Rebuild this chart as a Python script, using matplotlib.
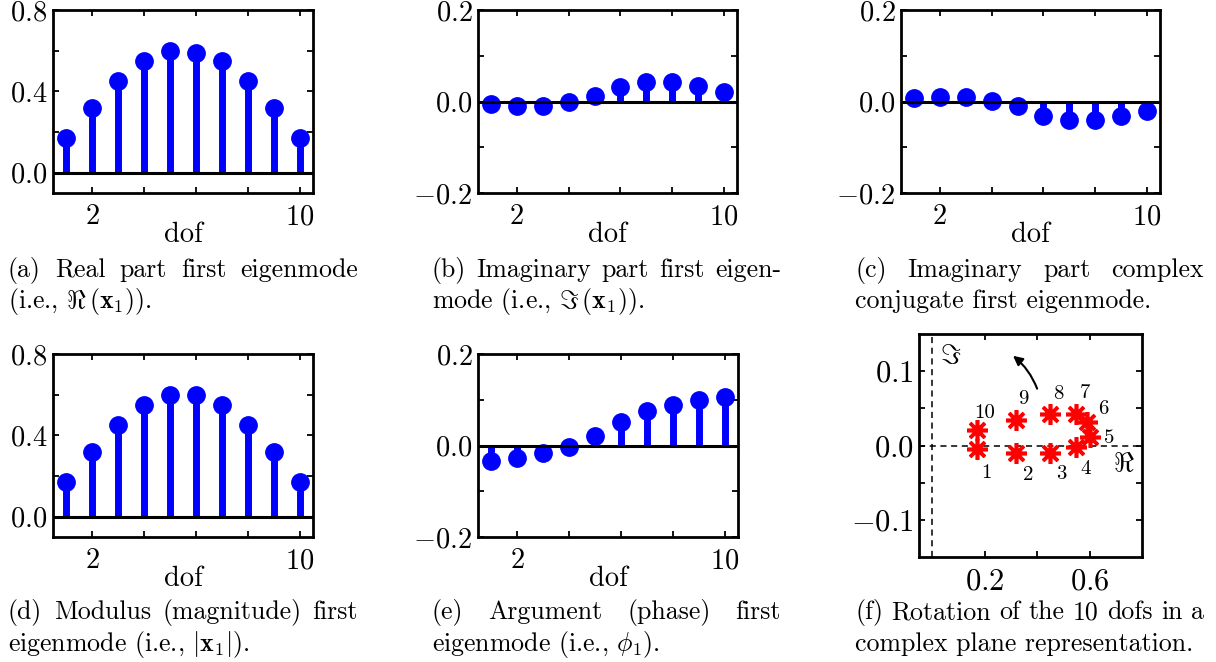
import matplotlib
matplotlib.use('Agg')
import matplotlib.pyplot as plt
import numpy as np

plt.rcParams['font.family'] = 'cmr10'
plt.rcParams['mathtext.fontset'] = 'cm'
plt.rcParams['axes.unicode_minus'] = False

# data
dof = np.arange(1, 11)
re_part = [0.17, 0.32, 0.45, 0.55, 0.60, 0.59, 0.55, 0.45, 0.32, 0.17]
im_part = [-0.005, -0.01, -0.01, -0.002, 0.012, 0.032, 0.043, 0.043, 0.034, 0.021]
im_conj = [0.007, 0.01, 0.01, 0.002, -0.01, -0.031, -0.04, -0.04, -0.031, -0.02]
modulus = [0.17, 0.32, 0.45, 0.55, 0.60, 0.60, 0.55, 0.45, 0.32, 0.17]
phase = [-0.034, -0.027, -0.017, -0.003, 0.02, 0.051, 0.075, 0.089, 0.10, 0.106]

W, H = 1216, 662
fig = plt.figure(figsize=(W / 100, H / 100), dpi=100)
FS = 20.5


def box(l, t, r, b):
    return [l / W, 1 - b / H, (r - l) / W, (b - t) / H]


def style(ax, lw=2.0, size=FS):
    for s in ax.spines.values():
        s.set_linewidth(lw)
    ax.tick_params(which='both', direction='in', top=True, right=True,
                   length=4, width=1.3, labelsize=size)
    ax.tick_params(axis='x', pad=8)
    ax.tick_params(axis='y', pad=4)


def stem_panel(ax, y, ylim, yticks, ylabels, yminor):
    ax.vlines(dof, 0, y, color='#0000ff', lw=5, zorder=2)
    ax.plot(dof, y, 'o', color='#0000ff', ms=12.5, zorder=3)
    ax.axhline(0, color='k', lw=2.2, zorder=4)
    ax.set_xlim(0.5, 10.5)
    ax.set_ylim(*ylim)
    ax.set_xticks([2, 4, 6, 8, 10], ['$2$', '', '', '', '$10$'])
    ax.set_yticks(yticks, ylabels)
    ax.set_yticks(yminor, minor=True)
    ax.set_xlabel('dof', fontsize=FS, labelpad=-6)
    style(ax)


pos_ticks = ([0.0, 0.4, 0.8], ['$0.0$', '$0.4$', '$0.8$'], [0.2, 0.6])
sym_ticks = ([-0.2, 0.0, 0.2], ['$-0.2$', '$0.0$', '$0.2$'], [-0.1, 0.1])

ax_a = fig.add_axes(box(53, 10, 313, 193))
stem_panel(ax_a, re_part, (-0.1, 0.8), *pos_ticks)
ax_b = fig.add_axes(box(478, 10, 737, 193))
stem_panel(ax_b, im_part, (-0.2, 0.2), *sym_ticks)
ax_c = fig.add_axes(box(901, 10, 1160, 193))
stem_panel(ax_c, im_conj, (-0.2, 0.2), *sym_ticks)
ax_d = fig.add_axes(box(53, 354, 313, 537))
stem_panel(ax_d, modulus, (-0.1, 0.8), *pos_ticks)
ax_e = fig.add_axes(box(478, 354, 738, 537))
stem_panel(ax_e, phase, (-0.2, 0.2), *sym_ticks)

# (f) complex plane
ax_f = fig.add_axes(box(919, 334, 1142, 557))
ax_f.axhline(0, color='k', ls=(0, (4, 3)), lw=1.1)
ax_f.axvline(0, color='k', ls=(0, (4, 3)), lw=1.1)
ax_f.plot(re_part, im_part, ls='none', marker=(8, 2, 0), ms=15, mew=2.6,
          color='red', zorder=3)
offsets = [(7, -17), (8.5, -16), (8, -15), (6.5, -16), (14, -1),
           (12, 9), (6.5, 14.5), (6, 14), (5, 15), (6, 12)]
for k, (xr, yi) in enumerate(zip(re_part, im_part)):
    ax_f.annotate(str(dof[k]), (xr, yi), xytext=offsets[k],
                  textcoords='offset points', ha='center', va='center',
                  fontsize=15)
ax_f.annotate('', xy=(0.30, 0.123), xytext=(0.404, 0.073),
              arrowprops=dict(arrowstyle='-|>', color='k', lw=1.5,
                              connectionstyle='arc3,rad=0.15',
                              mutation_scale=14))
ax_f.text(0.072, 0.121, r'$\Im$', fontsize=20, ha='center', va='center')
ax_f.text(0.732, -0.025, r'$\Re$', fontsize=20, ha='center', va='center')
ax_f.set_xlim(-0.05, 0.8)
ax_f.set_ylim(-0.15, 0.15)
ax_f.set_xticks([0.2, 0.4, 0.6], ['$0.2$', '', '$0.6$'])
ax_f.set_yticks([-0.1, 0.0, 0.1], ['$-0.1$', '$0.0$', '$0.1$'])
ax_f.set_yticks([-0.05, 0.05], minor=True)
style(ax_f, size=22)

# captions, first line justified like the LaTeX source
renderer = fig.canvas.get_renderer()
CAP = 18.6


def justify(words, x0, x1, y):
    texts = [fig.text(0, 1 - y / H, w, fontsize=CAP, va='baseline')
             for w in words]
    widths = [t.get_window_extent(renderer).width for t in texts]
    gap = (x1 - x0 - sum(widths)) / (len(words) - 1)
    x = x0
    for t, w in zip(texts, widths):
        t.set_x(x / W)
        x += w + gap


captions = [
    (['(a)', 'Real', 'part', 'first', 'eigenmode'],
     r'(i.e., $\Re\,(\mathbf{x}_1)$).', 8, 358, 277),
    (['(b)', 'Imaginary', 'part', 'first', 'eigen-'],
     r'mode (i.e., $\Im\,(\mathbf{x}_1)$).', 432, 781, 277),
    (['(c)', 'Imaginary', 'part', 'complex'],
     'conjugate first eigenmode.', 855, 1204, 277),
    (['(d)', 'Modulus', '(magnitude)', 'first'],
     r'eigenmode (i.e., $|\mathbf{x}_1|$).', 8, 358, 619),
    (['(e)', 'Argument', '(phase)', 'first'],
     r'eigenmode (i.e., $\phi_1$).', 432, 781, 619),
    (['(f)', 'Rotation', 'of', 'the', '10', 'dofs', 'in', 'a'],
     'complex plane representation.', 855, 1204, 619),
]
for words, line2, x0, x1, y in captions:
    justify(words, x0, x1, y)
    fig.text(x0 / W, 1 - (y + 31.5) / H, line2, fontsize=CAP, va='baseline')

fig.savefig('out.png', dpi=100)
